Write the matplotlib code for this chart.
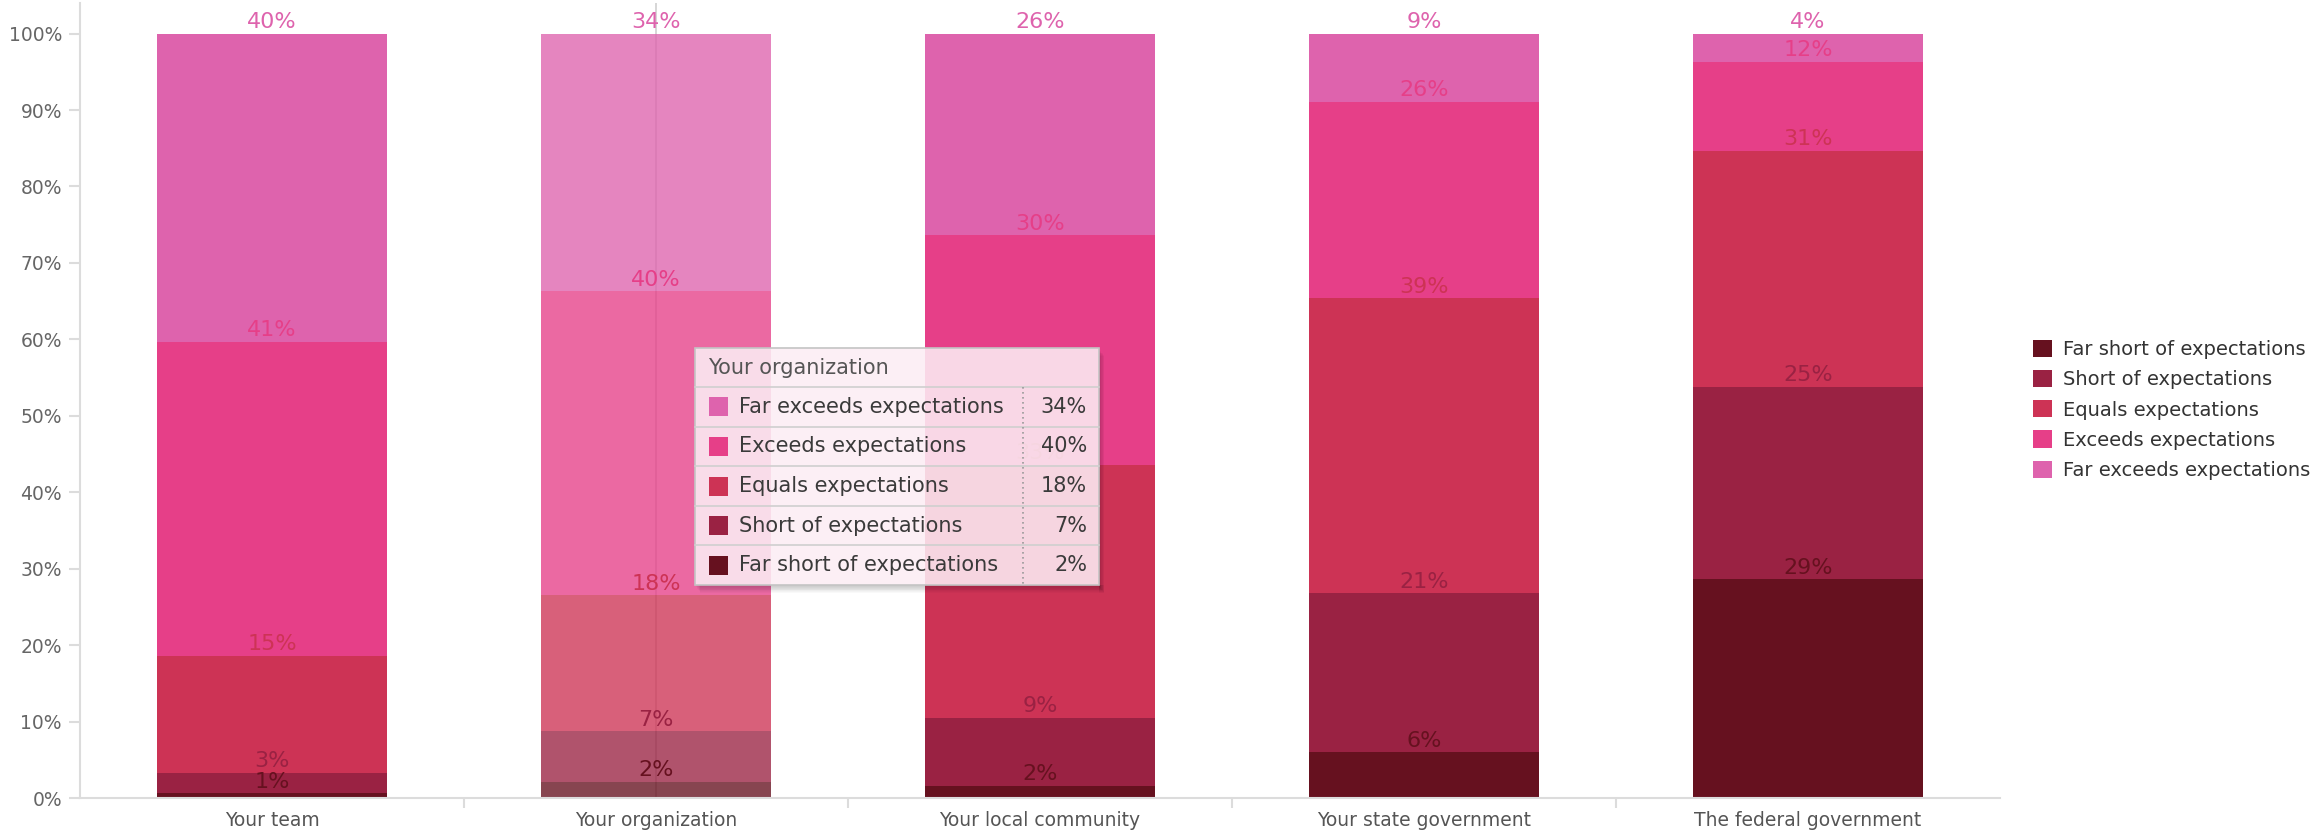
import matplotlib
matplotlib.use("Agg")
import matplotlib.pyplot as plt
import numpy as np
from matplotlib.patches import Rectangle, Patch
from matplotlib.ticker import FixedLocator

plt.rcParams['font.family'] = ['DejaVu Sans']

# ---- data -------------------------------------------------------------
categories = ["Your team", "Your organization", "Your local community",
              "Your state government", "The federal government"]
series_names = ["Far short of expectations", "Short of expectations",
                "Equals expectations", "Exceeds expectations",
                "Far exceeds expectations"]
far_short = [0.6, 2.1, 1.6, 6.0, 28.6]
short_of = [2.7, 6.6, 8.9, 20.8, 25.2]
equals = [15.3, 17.8, 33.1, 38.6, 30.9]
exceeds = [41.1, 39.8, 30.0, 25.7, 11.6]
far_exceeds = [40.3, 33.7, 26.4, 8.9, 3.7]
series_colors = ["#66111f", "#9a2243", "#cd3355", "#e63f88", "#de63ad"]
ytick_values = [0, 10, 20, 30, 40, 50, 60, 70, 80, 90, 100]
ytick_labels = [f"{v}%" for v in ytick_values]
hovered = 1  # category under the pointer

series_values = [far_short, short_of, equals, exceeds, far_exceeds]

# ---- figure -----------------------------------------------------------
W, H = 2318, 835
fig = plt.figure(figsize=(W / 100, H / 100), dpi=100)
ax = fig.add_axes([80 / W, 37 / H, 1920 / W, 795 / H])

x = np.arange(len(categories))
grey_axis = "#dcdcdc"

# hover crosshair behind the hovered bar
ax.axvline(x[hovered], color="#cfcfcf", lw=1.2, zorder=1)

bottom = np.zeros(len(categories))
for name, vals, col in zip(series_names, series_values, series_colors):
    vals = np.asarray(vals, dtype=float)
    bars = ax.bar(x, vals, width=0.6, bottom=bottom, color=col,
                  label=name, zorder=2, linewidth=0)
    bars.patches[hovered].set_alpha(0.78)
    tops = bottom + vals
    for xi, top, v in zip(x, tops, vals):
        ax.annotate(f"{round(v)}%", (xi, top), xytext=(0, 4),
                    textcoords="offset points", ha="center", va="baseline",
                    fontsize=16, color=col, zorder=5)
    bottom = tops

ax.set_xlim(-0.5, len(categories) - 0.5)
ax.set_ylim(0, 104)

for s in ("top", "right"):
    ax.spines[s].set_visible(False)
for s in ("left", "bottom"):
    ax.spines[s].set_color(grey_axis)
    ax.spines[s].set_linewidth(1.5)

ax.set_yticks(ytick_values)
ax.set_yticklabels(ytick_labels)
ax.tick_params(axis="y", length=8, width=1.5, color=grey_axis,
               labelsize=13.5, labelcolor="#666666", pad=5)

ax.set_xticks(x)
ax.set_xticklabels(categories)
ax.tick_params(axis="x", which="major", length=0, labelsize=13.5,
               labelcolor="#555555", pad=9)
ax.xaxis.set_minor_locator(FixedLocator(x[:-1] + 0.5))
ax.tick_params(axis="x", which="minor", length=7, width=1.5, color=grey_axis)

# ---- legend ------------------------------------------------------------
handles = [Patch(facecolor=c, edgecolor="none") for c in series_colors]
fig.legend(handles, series_names, loc="upper left",
           bbox_to_anchor=(2033 / W, 1 - 340 / H), frameon=False,
           fontsize=14, handlelength=0.98, handleheight=0.98,
           handletextpad=0.55, labelspacing=0.56, borderpad=0,
           borderaxespad=0, labelcolor="#333333")

# ---- hover tooltip (pixel overlay) -------------------------------------
ov = fig.add_axes([0, 0, 1, 1], zorder=10)
ov.set_xlim(0, W)
ov.set_ylim(H, 0)
ov.axis("off")
ov.patch.set_alpha(0)

tx0, ty0, tx1, ty1 = 695, 348, 1099, 585
tw, th = tx1 - tx0, ty1 - ty0
head_h = 39
row_h = (th - head_h) / len(series_names)
divider_x = 1023

# soft drop shadow along the lower and right edges only
for i in range(1, 10):
    dx, dy = i * 0.6, i * 0.9
    ov.add_patch(Rectangle((tx0 + dx, ty1), tw, dy, facecolor="black",
                           alpha=0.022, lw=0))
    ov.add_patch(Rectangle((tx1, ty0 + dy), dx, th, facecolor="black",
                           alpha=0.022, lw=0))
ov.add_patch(Rectangle((tx0, ty0), tw, th, facecolor="#fcedf4",
                       alpha=0.88, edgecolor="none"))
ov.add_patch(Rectangle((tx0, ty0), tw, th, facecolor="none",
                       edgecolor="#c4c4c4", lw=1.2))
ov.text(tx0 + 13, ty0 + head_h / 2, categories[hovered], fontsize=15,
        color="#555555", va="center", ha="left")

for r, k in enumerate(reversed(range(len(series_names)))):
    ry = ty0 + head_h + r * row_h
    ov.plot([tx0, tx1], [ry, ry], color="#cfcfcf", lw=1.2)
    cy = ry + row_h / 2
    ov.add_patch(Rectangle((709, cy - 9.5), 19, 19, facecolor=series_colors[k],
                           edgecolor="none"))
    ov.text(739, cy, series_names[k], fontsize=15, color="#3a3a3a",
            va="center", ha="left")
    ov.text(1087, cy, f"{round(series_values[k][hovered])}%", fontsize=15,
            color="#3a3a3a", va="center", ha="right")
ov.plot([divider_x, divider_x], [ty0 + head_h, ty1], color="#9a9a9a",
        lw=1.2, ls=(0, (1, 2)))

fig.savefig("out.png", dpi=100, facecolor="white")
